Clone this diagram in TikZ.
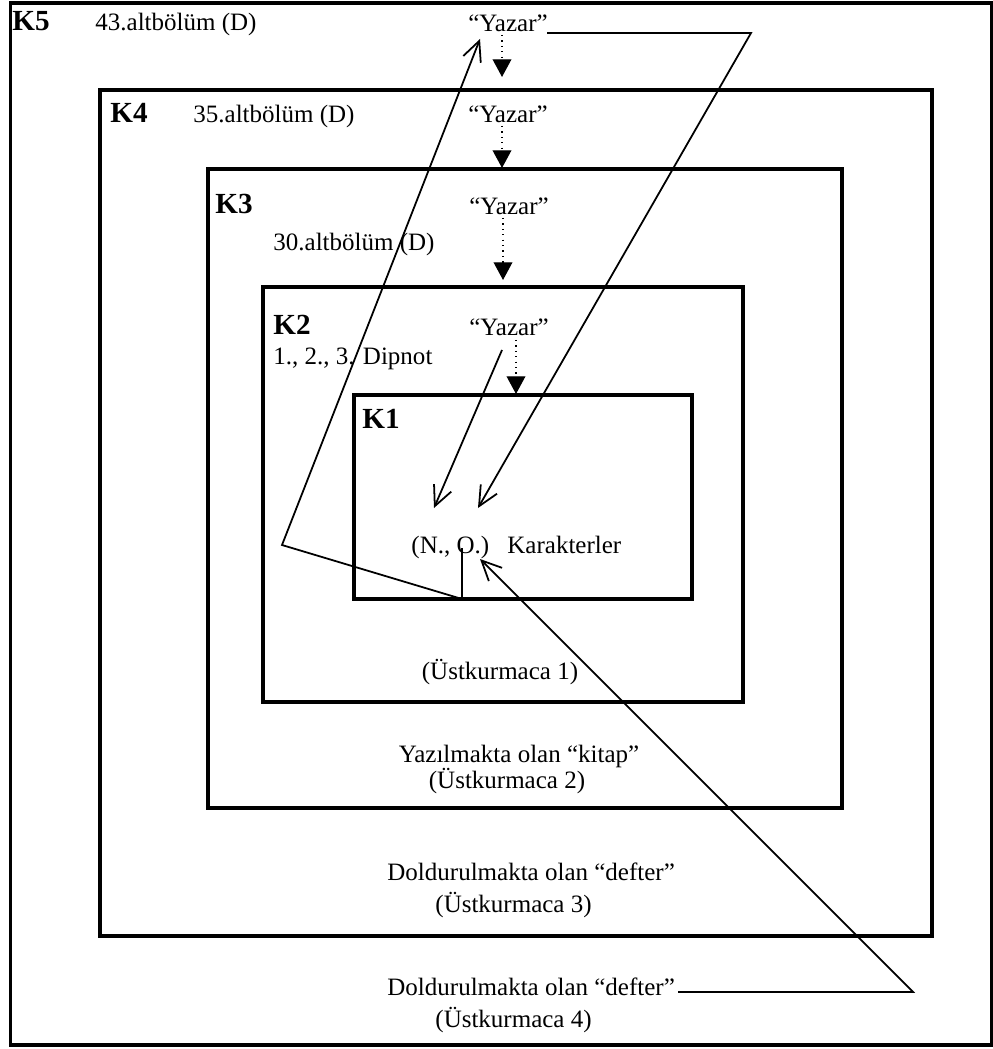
\documentclass[tikz,border=0pt]{standalone}
\usepackage{fontspec}
\setmainfont{Liberation Serif}
\usetikzlibrary{arrows.meta}
\begin{document}
\begin{tikzpicture}[x=0.48pt,y=-0.48pt,
 frame/.style={line width=1.8pt},
 txt/.style={inner sep=0pt, font=\fontsize{12}{14.4}\selectfont},
 klabel/.style={inner sep=0pt, font=\fontsize{14}{16.8}\selectfont\bfseries},
 thinline/.style={line width=0.85pt, line join=miter},
 dotarrow/.style={line width=0.6pt, dotted, -{Triangle[width=9pt,length=8.5pt]}},
 openarrow/.style={thinline, -{Straight Barb[length=9.5pt,width=9pt]}}
]
\useasboundingbox (0,0) rectangle (992,1049);
% frames
\draw[frame] (10.5,3) rectangle (992,1045);
\draw[frame] (100,90) rectangle (932,936);
\draw[frame] (208,169) rectangle (842,808);
\draw[frame] (263,287) rectangle (743,702);
\draw[frame] (354,395) rectangle (692,599);
% labels
\node[klabel, anchor=base west] (k5) at (12,31) {K5};
\node[txt, anchor=base west] (t5) at (95,31) {43.altbölüm (D)};
\node[klabel, anchor=base west] (k4) at (110,123) {K4};
\node[txt, anchor=base west] (t4) at (193,123) {35.altbölüm (D)};
\node[klabel, anchor=base west] (k3) at (215,214) {K3};
\node[txt, anchor=base west] (t3) at (273,251) {30.altbölüm (D)};
\node[klabel, anchor=base west] (k2) at (273,335) {K2};
\node[txt, anchor=base west] (t2) at (273,365) {1., 2., 3. Dipnot};
\node[klabel, anchor=base west] (k1) at (362,428) {K1};
\node[txt, anchor=base west] (no) at (411,553) {(N., O.)};
\node[txt, anchor=base west] (kar) at (507,553) {Karakterler};
% Yazar
\node[txt, anchor=base] (yz5) at (508,32) {“Yazar”};
\node[txt, anchor=base] (yz4) at (508,123) {“Yazar”};
\node[txt, anchor=base] (yz3) at (509,215) {“Yazar”};
\node[txt, anchor=base] (yz2) at (509,336) {“Yazar”};
% bottom texts
\node[txt, anchor=base] (u1) at (500,679) {(Üstkurmaca 1)};
\node[txt, anchor=base] (kit) at (519,762) {Yazılmakta olan “kitap”};
\node[txt, anchor=base] (u2) at (507,788) {(Üstkurmaca 2)};
\node[txt, anchor=base west] (def3) at (387,880) {Doldurulmakta olan “defter”};
\node[txt, anchor=base west] (u3) at (435,912) {(Üstkurmaca 3)};
\node[txt, anchor=base west] (def4) at (387,995) {Doldurulmakta olan “defter”};
\node[txt, anchor=base west] (u4) at (435,1027) {(Üstkurmaca 4)};
% dotted arrows
\coordinate (d5s) at (502,35); \coordinate (d5e) at (502,77);
\coordinate (d4s) at (502,126); \coordinate (d4e) at (502,168);
\coordinate (d3s) at (503,218); \coordinate (d3e) at (503,280);
\coordinate (d2s) at (516,340); \coordinate (d2e) at (516,394);
\draw[dotarrow] (d5s) -- (d5e);
\draw[dotarrow] (d4s) -- (d4e);
\draw[dotarrow] (d3s) -- (d3e);
\draw[dotarrow] (d2s) -- (d2e);
% long connectors
\coordinate (a1) at (547,33); \coordinate (a2) at (751,33); \coordinate (a3) at (478,508);
\draw[openarrow] (a1) -- (a2) -- (a3);
\coordinate (c1) at (502,350); \coordinate (c2) at (434,508);
\draw[openarrow] (c1) -- (c2);
\coordinate (b1) at (462,548); \coordinate (b2) at (462,599); \coordinate (b3) at (282,545); \coordinate (b4) at (480,39);
\draw[openarrow] (b1) -- (b2) -- (b3) -- (b4);
\coordinate (e1) at (678,992); \coordinate (e2) at (913,992); \coordinate (e3) at (480,559);
\draw[openarrow] (e1) -- (e2) -- (e3);
\end{tikzpicture}
\end{document}
